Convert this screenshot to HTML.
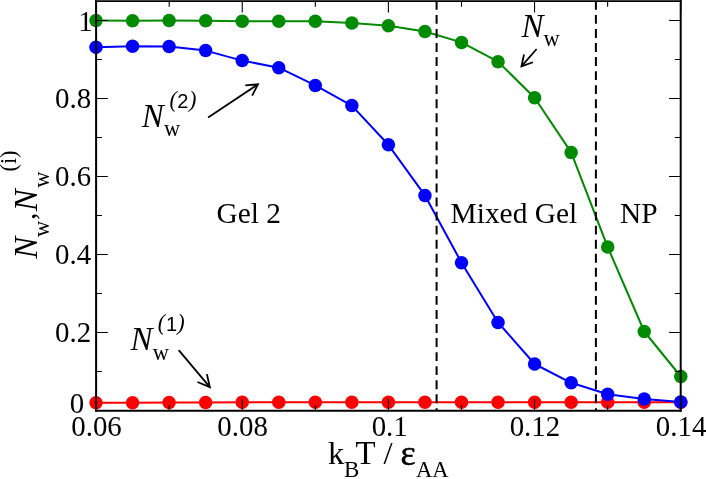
<!DOCTYPE html>
<html><head><meta charset="utf-8"><title>Nw vs kBT</title>
<style>
html,body{margin:0;padding:0;background:#fff;}
body{width:706px;height:479px;overflow:hidden;position:relative;font-family:"Liberation Serif",serif;}
</style></head><body>
<svg width="706" height="479" viewBox="0 0 706 479" style="position:absolute;left:0;top:0;display:block;will-change:transform">
<polyline points="96.00,402.70 132.55,402.70 169.10,402.60 205.65,402.40 242.20,402.30 278.75,402.30 315.30,402.30 351.85,402.30 388.40,402.30 424.95,402.30 461.50,402.30 498.05,402.30 534.60,402.20 571.15,402.20 607.70,402.20 644.25,402.20 680.80,402.20" fill="none" stroke="#ff0000" stroke-width="2.0" stroke-linejoin="round"/>
<circle cx="96.00" cy="402.70" r="6.75" fill="#ff0000"/>
<circle cx="132.55" cy="402.70" r="6.75" fill="#ff0000"/>
<circle cx="169.10" cy="402.60" r="6.75" fill="#ff0000"/>
<circle cx="205.65" cy="402.40" r="6.75" fill="#ff0000"/>
<circle cx="242.20" cy="402.30" r="6.75" fill="#ff0000"/>
<circle cx="278.75" cy="402.30" r="6.75" fill="#ff0000"/>
<circle cx="315.30" cy="402.30" r="6.75" fill="#ff0000"/>
<circle cx="351.85" cy="402.30" r="6.75" fill="#ff0000"/>
<circle cx="388.40" cy="402.30" r="6.75" fill="#ff0000"/>
<circle cx="424.95" cy="402.30" r="6.75" fill="#ff0000"/>
<circle cx="461.50" cy="402.30" r="6.75" fill="#ff0000"/>
<circle cx="498.05" cy="402.30" r="6.75" fill="#ff0000"/>
<circle cx="534.60" cy="402.20" r="6.75" fill="#ff0000"/>
<circle cx="571.15" cy="402.20" r="6.75" fill="#ff0000"/>
<circle cx="607.70" cy="402.20" r="6.75" fill="#ff0000"/>
<circle cx="644.25" cy="402.20" r="6.75" fill="#ff0000"/>
<circle cx="680.80" cy="402.20" r="6.75" fill="#ff0000"/>

<polyline points="96.00,47.20 132.55,46.30 169.10,46.60 205.65,50.60 242.20,60.60 278.75,67.70 315.30,85.40 351.85,105.60 388.40,144.80 424.95,195.40 461.50,262.70 498.05,322.50 534.60,364.00 571.15,382.80 607.70,394.20 644.25,399.10 680.80,402.00" fill="none" stroke="#0000ff" stroke-width="2.0" stroke-linejoin="round"/>
<circle cx="96.00" cy="47.20" r="6.75" fill="#0000ff"/>
<circle cx="132.55" cy="46.30" r="6.75" fill="#0000ff"/>
<circle cx="169.10" cy="46.60" r="6.75" fill="#0000ff"/>
<circle cx="205.65" cy="50.60" r="6.75" fill="#0000ff"/>
<circle cx="242.20" cy="60.60" r="6.75" fill="#0000ff"/>
<circle cx="278.75" cy="67.70" r="6.75" fill="#0000ff"/>
<circle cx="315.30" cy="85.40" r="6.75" fill="#0000ff"/>
<circle cx="351.85" cy="105.60" r="6.75" fill="#0000ff"/>
<circle cx="388.40" cy="144.80" r="6.75" fill="#0000ff"/>
<circle cx="424.95" cy="195.40" r="6.75" fill="#0000ff"/>
<circle cx="461.50" cy="262.70" r="6.75" fill="#0000ff"/>
<circle cx="498.05" cy="322.50" r="6.75" fill="#0000ff"/>
<circle cx="534.60" cy="364.00" r="6.75" fill="#0000ff"/>
<circle cx="571.15" cy="382.80" r="6.75" fill="#0000ff"/>
<circle cx="607.70" cy="394.20" r="6.75" fill="#0000ff"/>
<circle cx="644.25" cy="399.10" r="6.75" fill="#0000ff"/>
<circle cx="680.80" cy="402.00" r="6.75" fill="#0000ff"/>

<polyline points="96.00,20.50 132.55,20.65 169.10,20.60 205.65,20.80 242.20,21.15 278.75,21.15 315.30,21.30 351.85,23.10 388.40,25.85 424.95,31.50 461.50,42.40 498.05,61.70 534.60,97.70 571.15,152.40 607.70,247.10 644.25,331.50 680.80,376.50" fill="none" stroke="#008b00" stroke-width="2.0" stroke-linejoin="round"/>
<circle cx="96.00" cy="20.50" r="6.75" fill="#008b00"/>
<circle cx="132.55" cy="20.65" r="6.75" fill="#008b00"/>
<circle cx="169.10" cy="20.60" r="6.75" fill="#008b00"/>
<circle cx="205.65" cy="20.80" r="6.75" fill="#008b00"/>
<circle cx="242.20" cy="21.15" r="6.75" fill="#008b00"/>
<circle cx="278.75" cy="21.15" r="6.75" fill="#008b00"/>
<circle cx="315.30" cy="21.30" r="6.75" fill="#008b00"/>
<circle cx="351.85" cy="23.10" r="6.75" fill="#008b00"/>
<circle cx="388.40" cy="25.85" r="6.75" fill="#008b00"/>
<circle cx="424.95" cy="31.50" r="6.75" fill="#008b00"/>
<circle cx="461.50" cy="42.40" r="6.75" fill="#008b00"/>
<circle cx="498.05" cy="61.70" r="6.75" fill="#008b00"/>
<circle cx="534.60" cy="97.70" r="6.75" fill="#008b00"/>
<circle cx="571.15" cy="152.40" r="6.75" fill="#008b00"/>
<circle cx="607.70" cy="247.10" r="6.75" fill="#008b00"/>
<circle cx="644.25" cy="331.50" r="6.75" fill="#008b00"/>
<circle cx="680.80" cy="376.50" r="6.75" fill="#008b00"/>

<line x1="436.6" y1="0.9" x2="436.6" y2="410.8" stroke="#000" stroke-width="2" stroke-dasharray="8.9 5.15"/>
<line x1="595.9" y1="0.9" x2="595.9" y2="410.8" stroke="#000" stroke-width="2" stroke-dasharray="8.9 5.15"/>
<path d="M96.10 410.8 v-11.7 M96.10 0.9 v11.7 M169.18 410.8 v-5.85 M169.18 0.9 v5.85 M242.25 410.8 v-11.7 M242.25 0.9 v11.7 M315.33 410.8 v-5.85 M315.33 0.9 v5.85 M388.40 410.8 v-11.7 M388.40 0.9 v11.7 M461.48 410.8 v-5.85 M461.48 0.9 v5.85 M534.55 410.8 v-11.7 M534.55 0.9 v11.7 M607.62 410.8 v-5.85 M607.62 0.9 v5.85 M680.70 410.8 v-11.7 M680.70 0.9 v11.7 M96.1 410.50 h11.7 M680.7 410.50 h-11.7 M96.1 371.50 h5.85 M680.7 371.50 h-5.85 M96.1 332.50 h11.7 M680.7 332.50 h-11.7 M96.1 293.50 h5.85 M680.7 293.50 h-5.85 M96.1 254.50 h11.7 M680.7 254.50 h-11.7 M96.1 215.50 h5.85 M680.7 215.50 h-5.85 M96.1 176.50 h11.7 M680.7 176.50 h-11.7 M96.1 137.50 h5.85 M680.7 137.50 h-5.85 M96.1 98.50 h11.7 M680.7 98.50 h-11.7 M96.1 59.50 h5.85 M680.7 59.50 h-5.85 M96.1 20.50 h11.7 M680.7 20.50 h-11.7" stroke="#000" stroke-width="1.1" fill="none"/>
<path d="M96.1 411.8 V0.2 M680.7 411.8 V0.2" stroke="#000" stroke-width="2" fill="none"/>
<path d="M95.1 410.8 H681.7" stroke="#000" stroke-width="2" fill="none"/>
<path d="M95.1 1.05 H681.7" stroke="#000" stroke-width="1.7" fill="none"/>
<g font-family="Liberation Serif, serif" font-size="28.9" fill="#000">
<text x="92.8" y="30.70" text-anchor="end">1</text>
<text x="91.1" y="108.20" text-anchor="end">0.8</text>
<text x="91.1" y="186.20" text-anchor="end">0.6</text>
<text x="91.1" y="264.20" text-anchor="end">0.4</text>
<text x="91.1" y="342.20" text-anchor="end">0.2</text>
<text x="84.3" y="412.5" text-anchor="end">0</text>
<text x="96.50" y="436.4" text-anchor="middle">0.06</text>
<text x="242.65" y="436.4" text-anchor="middle">0.08</text>
<text x="389.70" y="436.4" text-anchor="middle">0.1</text>
<text x="534.95" y="436.4" text-anchor="middle">0.12</text>
<text x="681.10" y="436.4" text-anchor="middle">0.14</text>
</g>
<g font-family="Liberation Serif, serif" font-size="29.4" fill="#000">
<text x="216.5" y="223.3">Gel 2</text>
<text x="450.6" y="223.3">Mixed Gel</text>
<text x="620.1" y="223.3">NP</text>
</g>
<text x="141.7" y="126.9" font-family="Liberation Serif, serif" font-style="italic" font-size="33">N</text><text x="163.89999999999998" y="136.20000000000002" font-family="Liberation Serif, serif" font-size="22.4">w</text><text x="169.5" y="106.5" font-family="Liberation Serif, serif" font-style="italic" font-size="22.3">(</text><text x="177.25" y="107.8" font-family="Liberation Sans, sans-serif" font-size="20">2</text><text x="189.0" y="106.5" font-family="Liberation Serif, serif" font-style="italic" font-size="22.3">)</text>
<text x="130.6" y="350.0" font-family="Liberation Serif, serif" font-style="italic" font-size="33">N</text><text x="152.79999999999998" y="359.8" font-family="Liberation Serif, serif" font-size="22.4">w</text><text x="157.8" y="329.7" font-family="Liberation Serif, serif" font-style="italic" font-size="22.3">(</text><text x="165.9" y="330.7" font-family="Liberation Sans, sans-serif" font-size="20">1</text><text x="177.3" y="329.7" font-family="Liberation Serif, serif" font-style="italic" font-size="22.3">)</text>
<text x="521.6" y="37.0" font-family="Liberation Serif, serif" font-style="italic" font-size="33">N</text><text x="543.5" y="45.6" font-family="Liberation Serif, serif" font-size="22.4">w</text>
<line x1="208.1" y1="117.6" x2="257.95" y2="84.33" stroke="#000" stroke-width="1.8"/>
<polyline points="245.33,85.38 257.95,84.33 252.14,95.59" fill="none" stroke="#000" stroke-width="1.8" stroke-linejoin="miter"/>

<line x1="178.7" y1="350.1" x2="209.85" y2="387.16" stroke="#000" stroke-width="1.8"/>
<polyline points="206.90,374.12 209.85,387.16 197.51,382.02" fill="none" stroke="#000" stroke-width="1.8" stroke-linejoin="miter"/>

<line x1="536.6" y1="49.0" x2="521.48" y2="66.37" stroke="#000" stroke-width="1.8"/>
<polyline points="532.93,62.23 521.48,66.37 524.00,54.46" fill="none" stroke="#000" stroke-width="1.8" stroke-linejoin="miter"/>

<g font-family="Liberation Serif, serif" fill="#000">
<text x="327.9" y="464.2" font-size="32.6">k</text>
<text x="344.1" y="476.7" font-size="23">B</text>
<text x="355.6" y="464.2" font-size="32.8">T</text>
<text x="383.5" y="464.2" font-size="32.6">/</text>
<text x="400.6" y="464.5" font-size="36" stroke="#000" stroke-width="0.5">ε</text>
<text x="416.0" y="476.7" font-size="22.6">AA</text>
</g>
<g transform="translate(37.0,258.7) rotate(-90)" font-family="Liberation Serif, serif" fill="#000">
<text x="0" y="0" font-size="33" font-style="italic">N</text>
<text x="21.75" y="12.0" font-size="22.4">w</text>
<text x="38.6" y="-1.85" font-size="30">,</text>
<text x="47.5" y="0" font-size="33" font-style="italic">N</text>
<text x="70.95" y="12.0" font-size="22.4">w</text>
<text x="87.15" y="-21.15" font-size="22.4">(i)</text>
</g>
</svg>
</body></html>
